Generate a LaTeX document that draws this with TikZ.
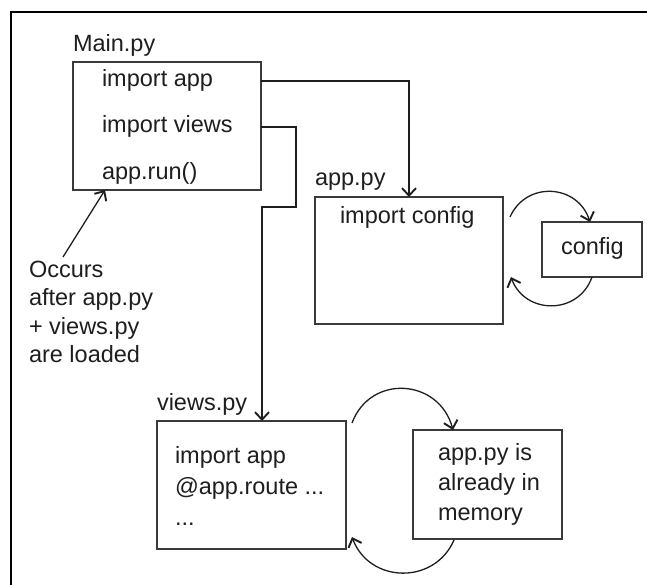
\documentclass[tikz,border=0pt]{standalone}
\usepackage{fontspec}
\setmainfont{Liberation Sans}
\usetikzlibrary{arrows.meta}
\definecolor{ink}{HTML}{1E1E1E}
\definecolor{edge}{HTML}{3A3A3A}

\begin{document}
\begin{tikzpicture}[x=1pt,y=-1pt,
  every node/.style={inner sep=0pt, outer sep=0pt},
  box/.style={draw=edge, line width=1.3pt, rectangle, inner sep=0pt, outer sep=0pt},
  lbl/.style={anchor=base west, text=ink, font=\fontsize{23.5}{28}\selectfont},
  flow/.style={draw=ink, line width=1.3pt,
    -{Straight Barb[length=7.5pt,width=14pt,line width=1.9pt]}},
  frameline/.style={draw=black, line width=1.7pt},
]
\useasboundingbox (0,0) rectangle (647,585);

% outer frame (top and left edges)
\draw[frameline] (11,585) -- (11,12) -- (647,12);

% boxes
\node[box, minimum width=188pt, minimum height=128pt] (main) at (167,126) {};
\node[box, minimum width=188pt, minimum height=127pt] (app) at (409,260.5) {};
\node[box, minimum width=100pt, minimum height=55pt] (config) at (592,249.5) {};
\node[box, minimum width=189pt, minimum height=128pt] (views) at (251.5,485) {};
\node[box, minimum width=149pt, minimum height=109pt] (mem) at (487.5,484.5) {};

% titles
\node[lbl] (tmain) at (73,52) {Main.py};
\node[lbl] (tapp) at (315,186) {app.py};
\node[lbl] (tviews) at (157,410) {views.py};

% Main.py contents
\node[lbl] (ma1) at (102,87) {import app};
\node[lbl] (ma2) at (102,133) {import views};
\node[lbl] (ma3) at (102,180) {app.run()};

% app.py contents
\node[lbl] (ap1) at (340,224) {import config};

% config
\node[lbl] (cf1) at (561,254) {config};

% views.py contents
\node[lbl] (vw1) at (175,463) {import app};
\node[lbl] (vw2) at (175,494) {@app.route ...};
\node[lbl] (vw3) at (175,525) {...};

% memory note
\node[lbl] (me1) at (438,460) {app.py is};
\node[lbl] (me2) at (438,490) {already in};
\node[lbl] (me3) at (438,520) {memory};

% side note
\node[lbl] (oc1) at (29,277) {Occurs};
\node[lbl] (oc2) at (29,305) {after app.py};
\node[lbl] (oc3) at (29,334) {+ views.py};
\node[lbl] (oc4) at (29,362) {are loaded};

% import connectors
\draw[flow] (main.east |- ma1) -| (app.north);
\coordinate (bendA) at (296,207);
\coordinate (bendB) at (262,207);
\draw[flow] (main.east |- ma2) -| (bendA) -- (bendB) -- (bendB |- views.north);

% note pointer
\coordinate (occTail) at (63,257);
\draw[flow] (occTail) -- (105,0 |- main.south);

% app.py <-> config loop
\coordinate (appOut) at (510,217);
\coordinate (appIn) at (511,277);
\draw[flow] (appOut) .. controls (526.5,180.3) and (577.8,184.4) .. (590,0 |- config.north);
\draw[flow] (config.south) .. controls (578.3,315.6) and (524.7,314.6) .. (appIn);

% views.py <-> memory loop
\coordinate (viewsOut) at (352,423);
\coordinate (viewsIn) at (352,537);
\coordinate (memOut) at (454,540);
\draw[flow] (viewsOut) .. controls (370.4,373.7) and (439.1,378.4) .. (453,0 |- mem.north);
\draw[flow] (memOut) .. controls (434.4,585.3) and (369.2,583.3) .. (viewsIn);
\end{tikzpicture}
\end{document}
